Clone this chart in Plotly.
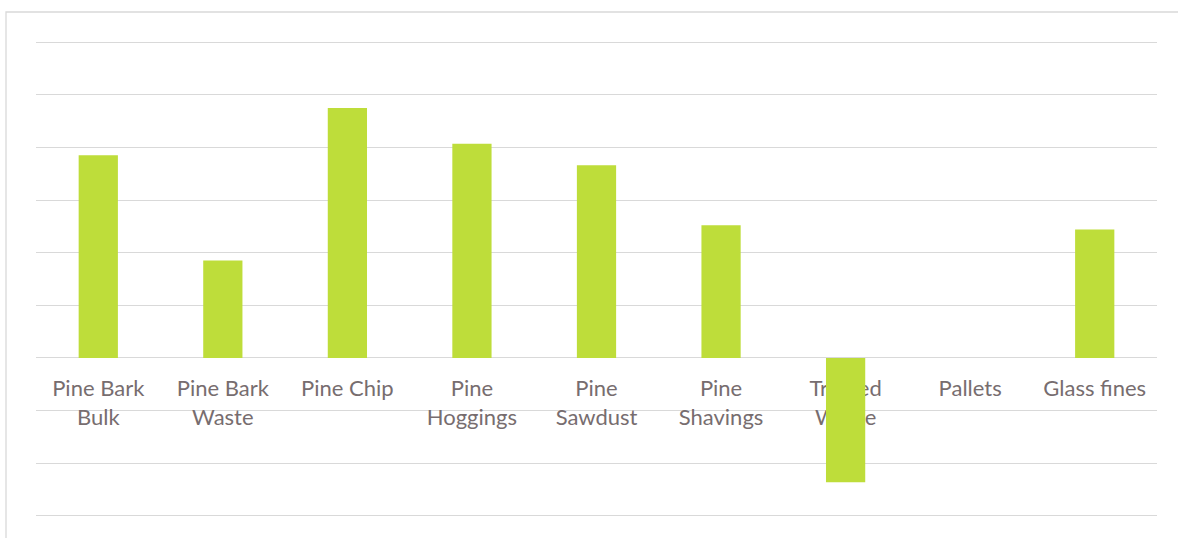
import plotly.graph_objects as go

categories = ["Pine Bark<br>Bulk", "Pine Bark<br>Waste", "Pine Chip", "Pine<br>Hoggings",
              "Pine<br>Sawdust", "Pine<br>Shavings", "Treated<br>Waste", "Pallets", "Glass fines"]
values = [3.85, 1.85, 4.75, 4.07, 3.66, 2.52, -2.36, 0, 2.44]

y_min, y_max = -3, 6
pad = 0.04

fig = go.Figure()
fig.add_trace(go.Bar(
    x=categories, y=values,
    marker=dict(color="#bedd3a", line=dict(width=0)),
    width=0.315,
))

fig.update_layout(
    width=1178, height=538,
    margin=dict(l=36, r=21, t=40, b=20),
    paper_bgcolor="white", plot_bgcolor="white",
    showlegend=False,
    font=dict(family="Lato, 'Open Sans', sans-serif", size=22, color="#776d6f"),
    xaxis=dict(
        anchor="free", position=(0 - (y_min - pad)) / (y_max - y_min + 2 * pad),
        showgrid=False, showline=False, zeroline=False,
        ticks="", ticklabelstandoff=15,
        layer="below traces",
        tickfont=dict(size=22, color="#776d6f"),
    ),
    yaxis=dict(
        range=[y_min - pad, y_max + pad], tick0=0, dtick=1,
        showticklabels=False, showgrid=True, gridcolor="#d9d9d9", gridwidth=1.3,
        zeroline=True, zerolinecolor="#d9d9d9", zerolinewidth=1.3,
        showline=False, ticks="",
    ),
    shapes=[dict(type="rect", xref="paper", yref="paper",
                 x0=-30 / 1121, x1=1.03, y0=-0.08, y1=1 + 28 / 478,
                 line=dict(color="#d9d9d9", width=1.3), fillcolor="rgba(0,0,0,0)",
                 layer="below")],
)

fig.write_html("out.html", config={"displayModeBar": False},
               post_script="document.body.style.margin='0';")
